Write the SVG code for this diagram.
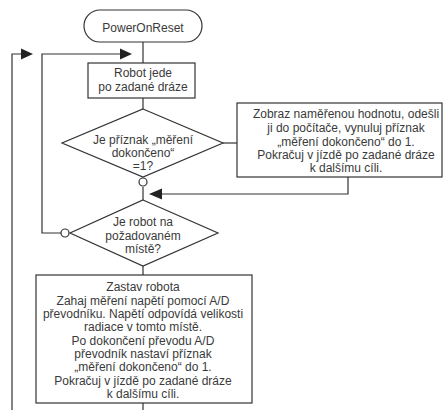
<svg xmlns="http://www.w3.org/2000/svg" width="443" height="410" viewBox="0 0 443 410">
<defs>
<style>
.s{fill:#fff;stroke:#333;stroke-width:1.2}
.c{fill:none;stroke:#333;stroke-width:1.2}
.t{font-family:"Liberation Sans",Arial,sans-serif;font-size:12px;fill:#3a3a3a;text-anchor:middle}
.h{fill:#222;stroke:none}
</style>
</defs>
<rect width="443" height="410" fill="#fff"/>
<g id="connectors">
<path class="c" d="M143 42V63"/>
<path class="c" d="M143 98V109"/>
<path class="c" d="M143 187V200"/>
<path class="c" d="M143 266V275"/>
<path class="c" d="M143 403V410"/>
<path class="c" d="M223 143H237"/>
<path class="c" d="M348 177V194H161"/>
<polygon class="h" points="149,194 162,188.5 162,199.5"/>
<path class="c" d="M61 233H42V54H121"/>
<polygon class="h" points="132,54 120,48.5 120,59.5"/>
<path class="c" d="M12 410V54H22"/>
<polygon class="h" points="33,54 21,48.5 21,59.5"/>
</g>
<g id="start">
<rect class="s" x="84" y="10" width="118" height="32" rx="16"/>
<text class="t" x="143" y="32">PowerOnReset</text>
</g>
<g id="drive">
<rect class="s" x="88" y="63" width="107" height="35"/>
<text class="t" x="143" y="77">Robot jede</text>
<text class="t" x="143" y="91">po zadané dráze</text>
</g>
<g id="decision1">
<polygon class="s" points="143,109 223,143 143,177 62,143"/>
<text class="t" x="143" y="144">Je příznak „měření</text>
<text class="t" x="143" y="157">dokončeno“</text>
<text class="t" x="143" y="170">=1?</text>
<circle class="s" cx="143" cy="182" r="4"/>
</g>
<g id="report">
<rect class="s" x="237" y="103" width="205" height="74"/>
<text class="t" x="346" y="118">Zobraz naměřenou hodnotu, odešli</text>
<text class="t" x="346" y="132">ji do počítače, vynuluj příznak</text>
<text class="t" x="346" y="146">„měření dokončeno“ do 1.</text>
<text class="t" x="346" y="159">Pokračuj v jízdě po zadané dráze</text>
<text class="t" x="346" y="172">k dalšímu cíli.</text>
</g>
<g id="decision2">
<polygon class="s" points="143,200 218,233 143,266 70,233"/>
<text class="t" x="143" y="226">Je robot na</text>
<text class="t" x="143" y="240">požadovaném</text>
<text class="t" x="143" y="253">místě?</text>
<circle class="s" cx="65" cy="233" r="4"/>
</g>
<g id="measure">
<rect class="s" x="36" y="275" width="216" height="128"/>
<text class="t" x="143" y="291">Zastav robota</text>
<text class="t" x="143" y="305">Zahaj měření napětí pomocí A/D</text>
<text class="t" x="143" y="318">převodníku. Napětí odpovídá velikosti</text>
<text class="t" x="143" y="331">radiace v tomto místě.</text>
<text class="t" x="143" y="345">Po dokončení převodu A/D</text>
<text class="t" x="143" y="358">převodník nastaví příznak</text>
<text class="t" x="143" y="371">„měření dokončeno“ do 1.</text>
<text class="t" x="143" y="385">Pokračuj v jízdě po zadané dráze</text>
<text class="t" x="143" y="398">k dalšímu cíli.</text>
</g>
</svg>
